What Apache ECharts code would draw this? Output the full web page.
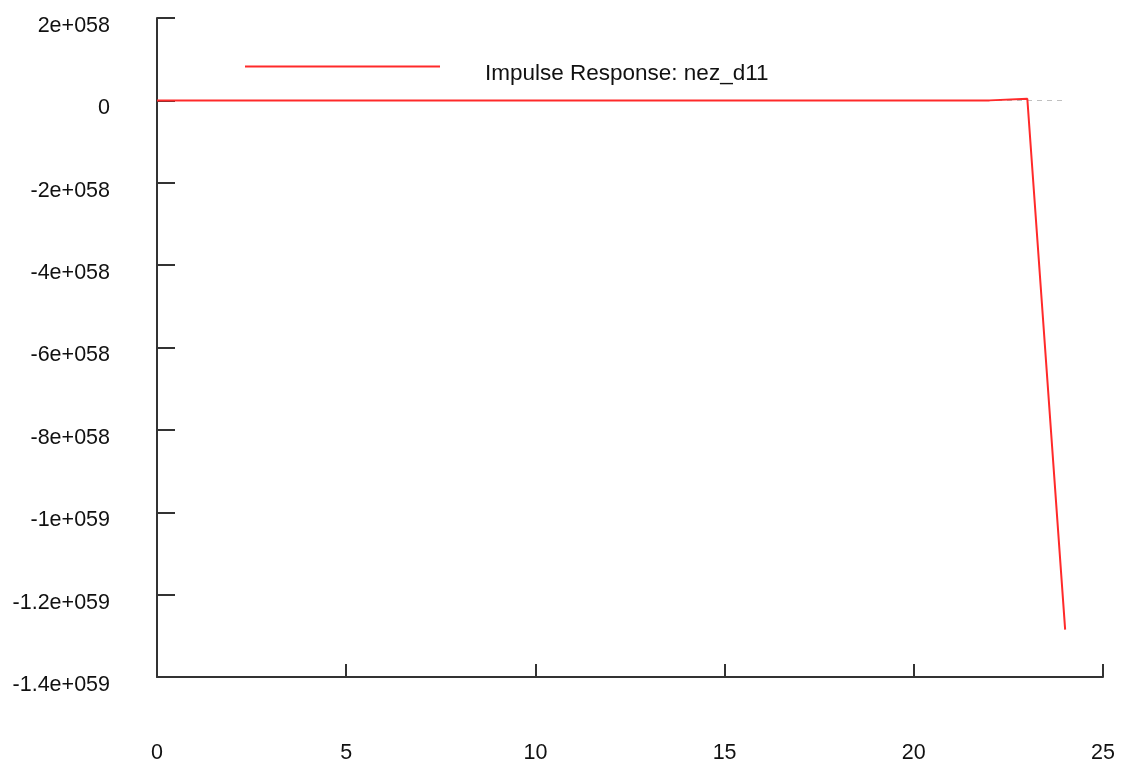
<!DOCTYPE html>
<html>
<head>
<meta charset="utf-8">
<script src="https://cdn.jsdelivr.net/npm/echarts@6/dist/echarts.min.js"></script>
<style>
html,body{margin:0;padding:0;background:#fff;}
#chart{width:1125px;height:765px;}
</style>
</head>
<body>
<div id="chart"></div>
<script>
// Data
var seriesName = 'Impulse Response: nez_d11';
var periods = [0,1,2,3,4,5,6,7,8,9,10,11,12,13,14,15,16,17,18,19,20,21,22,23,24];
var response = [0,0,0,0,0,0,0,0,0,0,0,0,0,0,0,0,0,0,0,0,0,0,0,4e56,-1.285e59];
var xTicks = [0,5,10,15,20,25];
var yTicks = [2e58,0,-2e58,-4e58,-6e58,-8e58,-1e59,-1.2e59,-1.4e59];

function fmtSci(v){
  if (Math.abs(v) < 1e55) return '0';
  var exp = Math.floor(Math.log10(Math.abs(v)) + 1e-9);
  var mant = parseFloat((v / Math.pow(10, exp)).toPrecision(3));
  var e = String(exp); while (e.length < 3) e = '0' + e;
  return mant + 'e+' + e;
}

var chart = echarts.init(document.getElementById('chart'));
var font = 'Liberation Sans, Arial, sans-serif';
chart.setOption({
  animation: false,
  backgroundColor: '#ffffff',
  grid: {left: 157, right: 22, top: 18, bottom: 88, containLabel: false},
  legend: {
    left: 240, top: 57,
    icon: 'rect',
    itemWidth: 195, itemHeight: 2,
    formatter: function(n){ return '{a|' + n + '}'; },
    textStyle: {
      fontFamily: font, fontSize: 22.5, color: '#111',
      rich: {a: {fontFamily: font, fontSize: 22.5, color: '#111', padding: [14,0,0,40]}}
    },
    data: [seriesName]
  },
  xAxis: {
    type: 'value',
    min: xTicks[0], max: xTicks[xTicks.length-1], interval: xTicks[1]-xTicks[0],
    axisLine: {show: true, onZero: false, lineStyle: {color: '#333', width: 2}},
    axisTick: {show: true, inside: true, length: 13, lineStyle: {color: '#333', width: 2}},
    axisLabel: {fontFamily: font, fontSize: 21.5, color: '#111', margin: 65},
    splitLine: {show: false}
  },
  yAxis: {
    type: 'value',
    min: yTicks[yTicks.length-1], max: yTicks[0], interval: yTicks[0]-yTicks[1],
    axisLine: {show: true, onZero: false, lineStyle: {color: '#333', width: 2}},
    axisTick: {show: true, inside: true, length: 18, lineStyle: {color: '#333', width: 2}},
    axisLabel: {
      fontFamily: font, fontSize: 21.5, color: '#111', margin: 47,
      formatter: function(v){ return '{a|' + fmtSci(v) + '}'; },
      rich: {a: {fontFamily: font, fontSize: 21.5, color: '#111', padding: [16,0,0,0]}}
    },
    splitLine: {show: false}
  },
  series: [{
    name: seriesName,
    type: 'line',
    symbol: 'none',
    data: periods.map(function(p,i){return [p, response[i]];}),
    lineStyle: {color: '#ff2a2a', width: 2},
    itemStyle: {color: '#ff2a2a'},
    markLine: {
      silent: true, symbol: 'none', label: {show: false},
      lineStyle: {color: '#c0c0c0', type: [5,5], width: 1},
      data: [[{coord: [periods[0], 0]}, {coord: [periods[periods.length-1], 0]}]],
      z: 1
    },
    z: 3
  }]
});
</script>
</body>
</html>
